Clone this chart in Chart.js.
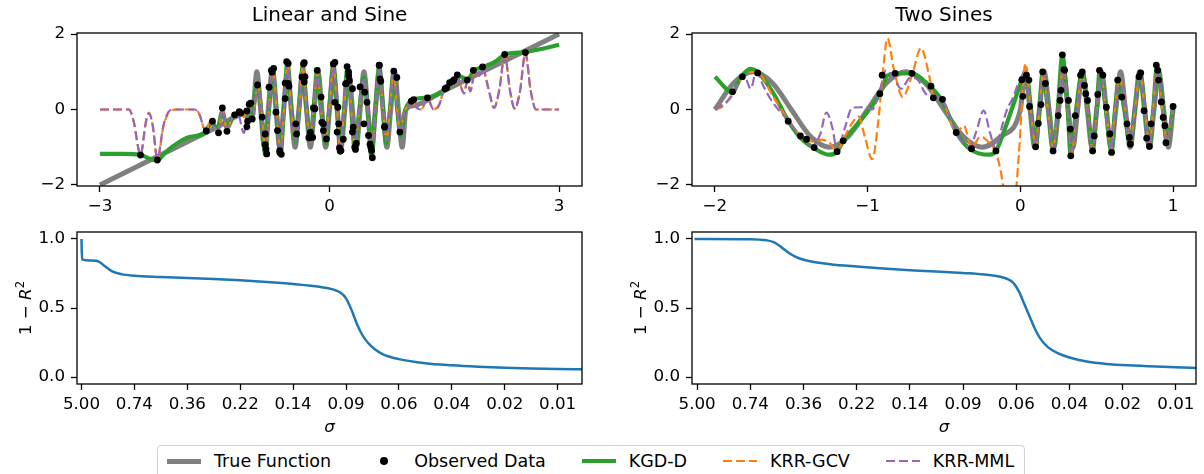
<!DOCTYPE html>
<html>
<head>
<meta charset="utf-8">
<script src="https://cdn.jsdelivr.net/npm/chart.js@4.4.1/dist/chart.umd.min.js"></script>
<style>
  body { margin: 0; background: #fff; width: 1204px; height: 474px; overflow: hidden; position: relative; }
  canvas { position: absolute; }
  #legend {
    position: absolute; left: 157px; top: 445px; height: 40px; box-sizing: border-box;
    border: 1px solid #d0d0d0; border-radius: 4px; background: #fff;
    padding: 5px 10px 0 9px; display: flex; align-items: flex-start;
    font: 17.5px "DejaVu Sans"; line-height: 20px; color: #000; white-space: nowrap;
  }
  #legend .item { display: flex; align-items: center; margin-right: 36px; }
  #legend .item:last-child { margin-right: 0; }
  #legend .h { display: inline-block; width: 34px; margin-right: 13px; position: relative; }
</style>
</head>
<body>
<canvas id="tl" width="600" height="215" style="left:0;top:0"></canvas>
<canvas id="tr" width="600" height="215" style="left:604px;top:0"></canvas>
<canvas id="bl" width="600" height="230" style="left:0;top:215px"></canvas>
<canvas id="br" width="600" height="230" style="left:604px;top:215px"></canvas>
<div id="legend"></div>
<script>
// ---- data ----
const seriesNames = ["True Function", "Observed Data", "KGD-D", "KRR-GCV", "KRR-MML"];
const seriesColors = ["#808080", "#000000", "#2ca02c", "#ff7f0e", "#9467bd"];

// Linear and Sine
const lsXTicks = [-3, 0, 3];
const lsTrue = [[-3,-2],[-2.5,-1.5],[-2,-1],[-1.5,-0.5],[-1.1,-0.1],[-1,0],[-0.95,1],[-0.9,0],[-0.85,-1],[-0.8,0],
  [-0.75,1],[-0.7,0],[-0.65,-1],[-0.6,0],[-0.55,1],[-0.5,0],[-0.45,-1],[-0.4,0],[-0.35,1],[-0.3,0],[-0.25,-1],
  [-0.2,0],[-0.15,1],[-0.1,0],[-0.05,-1],[0,0],[0.05,1],[0.1,0],[0.15,-1],[0.2,0],[0.25,1],[0.3,0],[0.35,-1],
  [0.4,0],[0.45,1],[0.5,0],[0.55,-1],[0.6,0],[0.65,1],[0.7,0],[0.75,-1],[0.8,0],[0.85,1],[0.9,0],[0.95,-1],
  [1,0],[1.1,0.1],[1.5,0.5],[2,1],[2.5,1.5],[3,2]];
const lsObs = [[-2.47,-1.21],[-2.25,-1.34],[-1.61,-0.57],[-1.53,-0.31],[-1.45,-0.62],[-1.4,0.04],[-1.34,-0.58],
  [-1.24,-0.14],[-1.18,-0.06],[-1.16,-0.09],[-1.08,-0.04],[-1.08,-0.46],[-1.07,-0.31],[-1.05,0.14],[-1.03,0.17],
  [-1.01,-0.25],[-0.94,0.65],[-0.88,-0.2],[-0.84,-0.65],[-0.84,-0.93],[-0.83,-1.05],[-0.82,-1.18],[-0.79,0.59],
  [-0.76,1.04],[-0.75,0.99],[-0.73,1.09],[-0.7,-0.07],[-0.68,-0.56],[-0.65,-1.09],[-0.65,-1.14],[-0.63,-1.19],
  [-0.58,0.29],[-0.58,0.7],[-0.56,1.27],[-0.54,1.22],[-0.54,0.69],[-0.53,0.62],[-0.44,-0.38],[-0.43,-0.65],
  [-0.36,0.86],[-0.34,1.21],[-0.33,1.24],[-0.32,0.87],[-0.33,0.73],[-0.27,-0.75],[-0.25,-0.61],[-0.22,-0.74],
  [-0.21,0.04],[-0.19,0.02],[-0.16,1.04],[-0.11,0.33],[-0.1,-0.34],[-0.08,-0.38],[-0.08,-0.56],[-0.04,-0.78],
  [0.05,1.21],[0.07,1.25],[0.07,0.19],[0.11,0.06],[0.1,-0.6],[0.12,-0.38],[0.13,-1.02],[0.14,-1.1],[0.15,-1.09],
  [0.18,-0.79],[0.21,0.68],[0.22,0.69],[0.23,1.14],[0.25,1.0],[0.25,0.9],[0.26,0.77],[0.3,0.55],[0.3,-0.6],
  [0.31,-0.47],[0.33,-1.0],[0.35,-0.9],[0.34,-1.06],[0.4,0.6],[0.45,-0.38],[0.46,0.46],[0.49,0.19],[0.51,-0.69],
  [0.53,-0.92],[0.54,-1.0],[0.55,-1.09],[0.56,-1.28],[0.65,1.17],[0.65,1.18],[0.66,0.81],[0.67,0.75],[0.72,-0.45],
  [0.72,-0.47],[0.84,1.02],[0.88,0.85],[0.92,-0.6],[1.07,0.22],[1.1,0.26],[1.28,0.31],[1.51,0.55],[1.53,0.58],
  [1.57,0.71],[1.61,0.75],[1.63,0.79],[1.67,0.92],[1.8,0.78],[1.88,1.04],[2.0,1.13],[2.29,1.46],[2.56,1.51]];
const lsKgd = [[-3,-1.18],[-2.7,-1.18],[-2.47,-1.2],[-2.36,-1.3],[-2.25,-1.35],[-2.15,-1.15],[-2.05,-0.98],
  [-1.85,-0.74],[-1.65,-0.64],[-1.58,-0.45],[-1.53,-0.35],[-1.47,-0.55],[-1.4,-0.05],[-1.34,-0.5],[-1.25,-0.15],
  [-1.15,-0.08],[-1.08,-0.2],[-1.02,-0.2],[-0.94,0.7],[-0.89,-0.1],[-0.84,-1.2],[-0.79,0],[-0.74,1.05],[-0.69,0],
  [-0.64,-1.2],[-0.595,0.05],[-0.55,1.25],[-0.5,0.1],[-0.44,-0.85],[-0.395,0.05],[-0.35,1.15],[-0.3,0],
  [-0.25,-0.8],[-0.205,0.1],[-0.16,1.05],[-0.11,0],[-0.05,-0.9],[0,0.1],[0.05,1.2],[0.1,0],[0.14,-1.15],[0.19,0],
  [0.235,1.12],[0.285,0],[0.33,-1.05],[0.39,0],[0.45,0.85],[0.5,0],[0.55,-1.3],[0.6,0],[0.65,1.15],[0.7,0],
  [0.74,-0.9],[0.79,0],[0.84,1.05],[0.885,0],[0.93,-0.7],[0.97,-0.15],[1.02,0.12],[1.1,0.27],[1.28,0.32],
  [1.5,0.52],[1.62,0.75],[1.7,0.88],[1.8,0.8],[1.9,1.05],[2.0,1.12],[2.15,1.25],[2.3,1.46],[2.55,1.52],[2.8,1.62],[3,1.72]];
const lsGcv = [[-3,0],[-2.62,0],[-2.56,-0.3],[-2.47,-1.2],[-2.4,-0.35],[-2.36,-0.08],[-2.31,-0.45],[-2.25,-1.33],
  [-2.17,-0.45],[-2.08,-0.03],[-2.0,0],[-1.76,0],[-1.7,-0.12],[-1.62,-0.58],[-1.56,-0.33],[-1.5,-0.5],[-1.45,-0.6],
  [-1.4,0],[-1.34,-0.55],[-1.27,-0.2],[-1.2,-0.05],[-1.12,-0.2],[-1.05,0.08],[-1.0,-0.3],[-0.94,0.65],[-0.89,0],
  [-0.83,-1.15],[-0.79,0],[-0.74,1.05],[-0.69,0],[-0.64,-1.15],[-0.595,0],[-0.55,1.2],[-0.5,0.05],[-0.44,-0.8],
  [-0.395,0],[-0.35,1.15],[-0.3,0],[-0.26,-0.75],[-0.205,0.1],[-0.16,1.0],[-0.11,0],[-0.06,-0.85],[0,0.1],
  [0.05,1.15],[0.1,0],[0.14,-1.1],[0.19,0],[0.235,1.1],[0.285,0],[0.33,-1.0],[0.39,0],[0.45,0.8],[0.5,0],
  [0.55,-1.2],[0.6,0],[0.65,1.1],[0.7,0],[0.745,-0.8],[0.79,0],[0.84,1.0],[0.885,0],[0.925,-0.65],[0.97,-0.1],
  [1.03,0.1],[1.07,0.22],[1.14,0.05],[1.2,0],[1.28,0.3],[1.36,0],[1.43,0.12],[1.5,0.55],[1.56,0.65],[1.62,0.78],
  [1.67,0.9],[1.72,0.6],[1.76,0.45],[1.8,0.75],[1.84,0.5],[1.9,1.0],[1.96,0.9],[2.0,1.1],[2.08,0.55],[2.15,0.05],
  [2.22,0.55],[2.29,1.45],[2.36,0.5],[2.42,0.02],[2.49,0.5],[2.56,1.5],[2.63,0.5],[2.7,0],[3,0]];
const lsMml = [[-3,0],[-2.62,0],[-2.56,-0.32],[-2.47,-1.2],[-2.4,-0.33],[-2.36,-0.1],[-2.31,-0.42],[-2.25,-1.3],
  [-2.17,-0.42],[-2.08,-0.02],[-2.0,0],[-1.76,0],[-1.7,-0.14],[-1.62,-0.56],[-1.56,-0.36],[-1.5,-0.52],[-1.45,-0.58],
  [-1.4,0],[-1.34,-0.52],[-1.27,-0.22],[-1.2,-0.1],[-1.12,-0.62],[-1.05,0.05],[-1.0,-0.32],[-0.94,0.68],[-0.89,0],
  [-0.83,-1.12],[-0.79,0],[-0.74,1.1],[-0.69,0],[-0.64,-1.12],[-0.595,0],[-0.55,1.22],[-0.5,0.05],[-0.44,-0.82],
  [-0.395,0],[-0.35,1.18],[-0.3,0],[-0.26,-0.78],[-0.205,0.1],[-0.16,1.05],[-0.11,0],[-0.06,-0.88],[0,0.1],
  [0.05,1.18],[0.1,0],[0.14,-1.12],[0.19,0],[0.235,1.12],[0.285,0],[0.33,-1.02],[0.39,0],[0.45,0.82],[0.5,0],
  [0.55,-1.22],[0.6,0],[0.65,1.12],[0.7,0],[0.745,-0.82],[0.79,0],[0.84,1.05],[0.885,0],[0.925,-0.68],[0.97,-0.12],
  [1.03,0.08],[1.07,0.22],[1.14,0.04],[1.2,0],[1.28,0.3],[1.36,0],[1.43,0.1],[1.5,0.55],[1.56,0.66],[1.62,0.78],
  [1.67,0.9],[1.72,0.58],[1.76,0.42],[1.8,0.75],[1.84,0.48],[1.9,1.0],[1.96,0.9],[2.0,1.1],[2.08,0.52],[2.15,0.04],
  [2.22,0.52],[2.29,1.45],[2.36,0.48],[2.42,0.02],[2.49,0.48],[2.56,1.5],[2.63,0.48],[2.7,0],[3,0]];

// Two Sines
const tsXTicks = [-2, -1, 0, 1];
const tsTrue = [[-2,0],[-1.875,0.71],[-1.75,1],[-1.625,0.71],[-1.5,0],[-1.375,-0.71],[-1.25,-1],[-1.125,-0.71],
  [-1,0],[-0.875,0.71],[-0.75,1],[-0.625,0.71],[-0.5,0],[-0.375,-0.71],[-0.25,-1],[-0.125,-0.71],[0,0],
  [0.031,1],[0.063,0],[0.094,-1],[0.125,0],[0.156,1],[0.188,0],[0.219,-1],[0.25,0],[0.281,1],[0.313,0],
  [0.344,-1],[0.375,0],[0.406,1],[0.438,0],[0.469,-1],[0.5,0],[0.531,1],[0.563,0],[0.594,-1],[0.625,0],
  [0.656,1],[0.688,0],[0.719,-1],[0.75,0],[0.781,1],[0.813,0],[0.844,-1],[0.875,0],[0.906,1],[0.938,0],
  [0.969,-1],[1,0]];
const tsObs = [[-1.885,0.47],[-1.82,0.87],[-1.72,0.97],[-1.52,-0.31],[-1.44,-0.7],[-1.4,-0.79],[-1.35,-1.01],
  [-1.2,-1.12],[-1.16,-0.83],[-0.92,0.42],[-0.905,0.91],[-0.82,0.96],[-0.71,0.96],[-0.585,0.62],[-0.57,0.31],
  [-0.51,0.27],[-0.42,-0.61],[-0.32,-1.04],[-0.16,-1.1],[0.01,0.79],[0.016,0.35],[0.04,0.91],[0.056,0.78],
  [0.06,0.08],[0.1,-0.99],[0.117,-0.37],[0.135,0.13],[0.146,1.0],[0.164,0.69],[0.214,-1.1],[0.248,-0.16],
  [0.26,0.24],[0.266,0.51],[0.275,1.45],[0.286,1.06],[0.29,1.04],[0.315,0.24],[0.327,-0.52],[0.33,-1.23],
  [0.36,-0.16],[0.394,0.91],[0.405,1.0],[0.42,0.64],[0.428,0.42],[0.44,0.24],[0.473,-1.1],[0.484,-0.7],
  [0.507,0.4],[0.518,1.04],[0.54,0.91],[0.563,0.06],[0.586,-0.65],[0.597,-1.14],[0.637,0.78],[0.664,0.33],
  [0.698,-0.38],[0.714,-0.74],[0.72,-0.92],[0.777,0.87],[0.788,0.97],[0.81,-0.03],[0.827,-0.76],[0.845,-0.98],
  [0.856,-0.38],[0.89,1.18],[0.9,1.04],[0.905,0.78],[0.923,0.2],[0.935,-0.21],[0.946,-0.43],[0.953,-0.88],[1.0,0.08]];
const tsKgd = [[-2.0,0.87],[-1.885,0.46],[-1.83,0.86],[-1.765,1.08],[-1.72,1.0],[-1.62,0.45],[-1.52,-0.3],
  [-1.44,-0.75],[-1.35,-1.03],[-1.25,-1.2],[-1.2,-1.12],[-1.16,-0.83],[-1.08,-0.45],[-1.0,-0.05],[-0.92,0.42],
  [-0.87,0.9],[-0.8,0.96],[-0.71,0.96],[-0.62,0.72],[-0.51,0.22],[-0.42,-0.6],[-0.33,-1.05],[-0.2,-1.2],
  [-0.16,-1.1],[-0.1,-0.5],[-0.03,0.32],[0.01,0.78],[0.04,0.92],[0.07,0],[0.1,-1.0],[0.125,0.05],[0.146,1.0],
  [0.18,0],[0.214,-1.1],[0.245,0],[0.275,1.45],[0.29,1.05],[0.31,0],[0.33,-1.23],[0.365,0],[0.405,1.0],
  [0.44,0.1],[0.473,-1.1],[0.5,0],[0.52,1.05],[0.56,0],[0.597,-1.14],[0.62,0],[0.645,0.8],[0.68,0],[0.72,-0.92],
  [0.75,0],[0.785,0.97],[0.815,0],[0.845,-0.98],[0.87,0],[0.895,1.18],[0.93,0.1],[0.96,-0.9],[1.0,0.08]];
const tsGcv = [[-2,0],[-1.94,0.1],[-1.89,0.4],[-1.81,0.9],[-1.75,1.0],[-1.7,0.92],[-1.63,0.42],[-1.52,-0.27],
  [-1.44,-0.68],[-1.36,-0.85],[-1.3,-0.8],[-1.25,-0.88],[-1.2,-1.1],[-1.16,-0.8],[-1.1,-0.35],[-1.06,-0.18],
  [-1.02,-0.7],[-0.97,-1.32],[-0.93,-0.3],[-0.91,0.55],[-0.87,1.89],[-0.83,1.1],[-0.77,0.33],[-0.71,0.9],
  [-0.65,1.63],[-0.6,0.95],[-0.57,0.38],[-0.51,0.25],[-0.46,-0.3],[-0.42,-0.62],[-0.37,-0.43],[-0.32,-1.0],
  [-0.26,-0.72],[-0.2,-0.9],[-0.16,-1.15],[-0.13,-1.6],[-0.11,-2.1],[-0.07,-2.7],[-0.03,-2.2],[-0.01,-1.2],
  [0.034,1.22],[0.065,0.1],[0.1,-0.95],[0.125,0],[0.148,0.95],[0.18,0],[0.214,-1.05],[0.245,0],[0.28,1.1],
  [0.31,0],[0.335,-1.15],[0.37,0],[0.405,0.95],[0.44,0],[0.473,-1.05],[0.5,0],[0.525,1.0],[0.56,0],[0.595,-1.05],
  [0.62,0],[0.65,0.85],[0.685,0],[0.72,-0.9],[0.75,0],[0.785,0.95],[0.815,0],[0.845,-0.95],[0.87,0],[0.895,1.1],
  [0.93,0],[0.96,-0.85],[1.0,0.05]];
const tsMml = [[-2,0],[-1.9,0.3],[-1.81,0.91],[-1.765,0.55],[-1.73,1.0],[-1.68,0.6],[-1.63,0.24],[-1.52,-0.3],
  [-1.44,-0.7],[-1.36,-0.95],[-1.31,-0.65],[-1.27,-0.08],[-1.23,-0.5],[-1.2,-1.1],[-1.15,-0.5],[-1.1,0.05],
  [-1.02,0.06],[-0.97,0.0],[-0.92,0.5],[-0.88,1.04],[-0.83,0.85],[-0.78,0.55],[-0.72,0.85],[-0.67,0.78],
  [-0.62,0.42],[-0.57,0.35],[-0.51,0.25],[-0.42,-0.62],[-0.33,-1.0],[-0.29,-0.6],[-0.24,-0.03],[-0.2,-0.6],
  [-0.16,-1.05],[-0.13,-0.6],[-0.09,-0.03],[-0.05,0.3],[0.0,0.82],[0.03,0.98],[0.065,0.1],[0.1,-0.98],[0.125,0],
  [0.148,0.98],[0.18,0],[0.214,-1.05],[0.245,0],[0.278,1.15],[0.31,0],[0.335,-1.1],[0.37,0],[0.405,0.98],[0.44,0],
  [0.473,-1.08],[0.5,0],[0.525,1.02],[0.56,0],[0.595,-1.08],[0.62,0],[0.65,0.85],[0.685,0],[0.72,-0.92],[0.75,0],
  [0.785,0.96],[0.815,0],[0.845,-0.96],[0.87,0],[0.895,1.12],[0.93,0],[0.96,-0.88],[1.0,0.05]];

const topYTicks = [-2, 0, 2];

// 1 - R^2 against sigma (x is the tick position)
const sigmaLabels = ["5.00", "0.74", "0.36", "0.22", "0.14", "0.09", "0.06", "0.04", "0.02", "0.01"];
const bottomYTicks = [0, 0.5, 1];
const lsErr = [[0,1.0],[0.01,0.852],[0.2,0.843],[0.33,0.836],[0.45,0.8],[0.58,0.765],[0.75,0.745],[1.0,0.733],
  [1.5,0.725],[2.0,0.718],[2.5,0.71],[3.0,0.7],[3.5,0.688],[4.0,0.673],[4.5,0.653],[4.75,0.635],[4.9,0.61],
  [5.0,0.57],[5.1,0.49],[5.2,0.39],[5.3,0.31],[5.41,0.25],[5.55,0.2],[5.7,0.165],[6.0,0.13],[6.5,0.1],[7.0,0.085],
  [7.5,0.075],[8.0,0.068],[8.5,0.063],[9.0,0.059],[9.46,0.056]];
const tsErr = [[-0.05,1.0],[1.0,0.998],[1.3,0.99],[1.45,0.975],[1.6,0.935],[1.75,0.893],[1.9,0.862],[2.1,0.84],
  [2.5,0.817],[3.0,0.8],[3.5,0.786],[4.0,0.774],[4.5,0.764],[5.0,0.753],[5.4,0.742],[5.7,0.726],[5.85,0.707],
  [5.95,0.68],[6.05,0.62],[6.15,0.53],[6.25,0.44],[6.35,0.35],[6.45,0.28],[6.6,0.215],[6.8,0.17],[7.0,0.142],
  [7.3,0.115],[7.7,0.095],[8.0,0.087],[8.5,0.078],[9.0,0.071],[9.38,0.066]];

// ---- drawing ----
const FONT = "DejaVu Sans";
const tickFont = { family: FONT, size: 16.7 };
const toXY = arr => arr.map(p => ({ x: p[0], y: p[1] }));
const minus = v => String(v).replace("-", "\u2212");

const frame = {
    id: "frame",
    afterDraw(chart) {
        const a = chart.chartArea, c = chart.ctx;
        c.save();
        c.strokeStyle = "#000";
        c.lineWidth = 1.3;
        c.strokeRect(a.left, a.top, a.right - a.left, a.bottom - a.top);
        c.restore();
    }
};

// "1 − R²" with italic R, as matplotlib mathtext draws it
const yLabel = {
    id: "yLabel",
    afterDraw(chart) {
        const c = chart.ctx, a = chart.chartArea;
        const parts = [
            { t: "1 \u2212 ", f: "16.7px 'DejaVu Sans'", dy: 0 },
            { t: "R", f: "italic 16.7px 'DejaVu Sans'", dy: 0 },
            { t: "2", f: "11.7px 'DejaVu Sans'", dy: -7 }
        ];
        c.save();
        c.fillStyle = "#000";
        c.textBaseline = "alphabetic";
        let total = 0;
        parts.forEach(p => { c.font = p.f; p.w = c.measureText(p.t).width; total += p.w; });
        c.translate(a.left - 52, (a.top + a.bottom) / 2);
        c.rotate(-Math.PI / 2);
        let x = -total / 2;
        parts.forEach(p => { c.font = p.f; c.fillText(p.t, x, 6 + p.dy); x += p.w; });
        c.restore();
    }
};

function axis(min, max, ticks, label, size, isX, title) {
    const ax = {
        type: "linear",
        min: min,
        max: max,
        afterBuildTicks: s => { s.ticks = ticks.map(v => ({ value: v })); },
        afterFit: s => { if (isX) s.height = size; else s.width = size; },
        grid: { drawOnChartArea: false, tickLength: 6, tickWidth: 1.3, tickColor: "#000" },
        border: { display: false },
        ticks: {
            color: "#000", font: tickFont, padding: isX ? 5 : 6,
            maxRotation: 0, autoSkip: false,
            callback: (v, i) => label(v, i)
        }
    };
    if (title) {
        ax.title = { display: true, text: title, color: "#000",
            font: { family: FONT, size: 16.7, style: "italic" }, padding: { top: 0, bottom: 7 } };
    }
    return ax;
}

function lineSet(data, i, width, dashed) {
    return {
        data: toXY(data), showLine: true, borderColor: seriesColors[i], borderWidth: width,
        borderDash: dashed ? [9, 4] : [], pointRadius: 0, cubicInterpolationMode: "monotone",
        clip: 0, order: 5 - i
    };
}

function topChart(id, title, trueF, obs, kgd, gcv, mml, xmin, xmax, xTicks, yWidth, padRight) {
    return new Chart(document.getElementById(id).getContext("2d"), {
        type: "scatter",
        data: {
            datasets: [
                lineSet(trueF, 0, 5, false),
                { data: toXY(obs), showLine: false, pointRadius: 3.4, pointBackgroundColor: "#000",
                  pointBorderWidth: 0, clip: 0, order: 0 },
                lineSet(kgd, 2, 4.2, false),
                lineSet(gcv, 3, 2.2, true),
                lineSet(mml, 4, 2.2, true)
            ]
        },
        options: {
            responsive: false, animation: false, events: [],
            layout: { padding: { left: 0, right: padRight, top: 0, bottom: 0 } },
            plugins: {
                legend: { display: false },
                tooltip: { enabled: false },
                title: { display: true, text: title, fullSize: false, color: "#000",
                    font: { family: FONT, size: 20, weight: "normal" }, padding: { top: 4, bottom: 5 } }
            },
            scales: {
                x: axis(xmin, xmax, xTicks, v => minus(v), 29, true),
                y: axis(-2.03, 2.03, topYTicks, v => minus(v), yWidth, false)
            }
        },
        plugins: [frame]
    });
}

function bottomChart(id, err, xmin, xmax, yWidth, padRight) {
    return new Chart(document.getElementById(id).getContext("2d"), {
        type: "scatter",
        data: {
            datasets: [{
                data: toXY(err), showLine: true, borderColor: "#1f77b4", borderWidth: 2.5,
                pointRadius: 0, cubicInterpolationMode: "monotone", clip: 0
            }]
        },
        options: {
            responsive: false, animation: false, events: [],
            layout: { padding: { left: 0, right: padRight, top: 17, bottom: 0 } },
            plugins: { legend: { display: false }, tooltip: { enabled: false } },
            scales: {
                x: axis(xmin, xmax, sigmaLabels.map((s, i) => i), (v, i) => sigmaLabels[i], 61, true, "\u03c3"),
                y: axis(-0.05, 1.05, bottomYTicks, v => v.toFixed(1), yWidth, false)
            }
        },
        plugins: [frame, yLabel]
    });
}

topChart("tl", "Linear and Sine", lsTrue, lsObs, lsKgd, lsGcv, lsMml, -3.3, 3.3, lsXTicks, 77, 18);
topChart("tr", "Two Sines", tsTrue, tsObs, tsKgd, tsGcv, tsMml, -2.15, 1.15, tsXTicks, 88, 8);
bottomChart("bl", lsErr, -0.085, 9.46, 77, 18);
bottomChart("br", tsErr, -0.096, 9.38, 88, 8);

// legend row under the panels
const legend = document.getElementById("legend");
seriesNames.forEach((name, i) => {
    const item = document.createElement("div");
    item.className = "item";
    const h = document.createElement("span");
    h.className = "h";
    if (i === 1) {
        h.style.height = "20px";
        h.innerHTML = '<span style="position:absolute;left:13px;top:6px;width:8px;height:8px;border-radius:50%;background:' + seriesColors[i] + '"></span>';
    } else if (i >= 3) {
        h.style.height = "2.5px";
        h.style.background = "repeating-linear-gradient(90deg," + seriesColors[i] + " 0 9px, transparent 9px 13px)";
    } else {
        h.style.height = i === 0 ? "5px" : "4px";
        h.style.background = seriesColors[i];
    }
    const t = document.createElement("span");
    t.textContent = name;
    item.appendChild(h);
    item.appendChild(t);
    legend.appendChild(item);
});
</script>
</body>
</html>
